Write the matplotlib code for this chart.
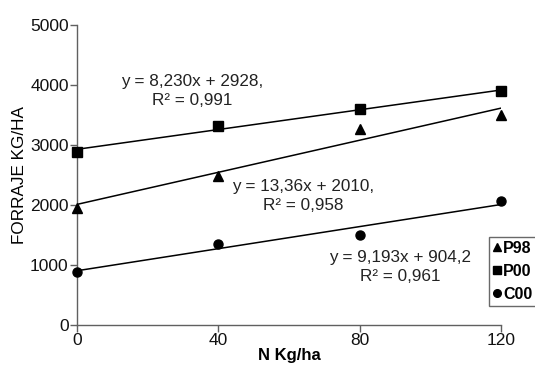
import matplotlib
matplotlib.use('Agg')
import numpy as np
import matplotlib.pyplot as plt
from matplotlib.lines import Line2D

plt.rcParams['font.family'] = ['Liberation Sans', 'DejaVu Sans']

# data
n_dose = [0, 40, 80, 120]
p98 = [1950, 2480, 3270, 3500]
p00 = [2880, 3310, 3600, 3900]
c00 = [880, 1350, 1500, 2070]

series_names = ['P98', 'P00', 'C00']
series_markers = ['^', 's', 'o']

# trend line coefficients (slope, intercept) as printed on the chart
trend_coef = {'P98': (13.36, 2010), 'P00': (8.230, 2928), 'C00': (9.193, 904.2)}
trend_text = {
    'P00': ('y = 8,230x + 2928,\nR² = 0,991', 32.5, 3900),
    'P98': ('y = 13,36x + 2010,\nR² = 0,958', 64, 2150),
    'C00': ('y = 9,193x + 904,2\nR² = 0,961', 91.5, 970),
}

y_ticks = [0, 1000, 2000, 3000, 4000, 5000]

AXIS_RGB = '#606060'

fig = plt.figure(figsize=(5.35, 3.65), dpi=100)
ax = fig.add_axes([0.144, 0.1096, 0.792, 0.822])

values = {'P98': p98, 'P00': p00, 'C00': c00}
x_line = np.array([n_dose[0], n_dose[-1]])
for name, mk in zip(series_names, series_markers):
    ax.plot(n_dose, values[name], linestyle='none', marker=mk, markersize=6.5,
            color='black', clip_on=False, zorder=3)
    slope, icept = trend_coef[name]
    ax.plot(x_line, slope * x_line + icept, color='black', linewidth=1.1, zorder=2)
    txt, tx, ty = trend_text[name]
    ax.text(tx, ty, txt, ha='center', va='center', fontsize=12.3, color='#222222',
            linespacing=1.3)

ax.set_xlim(0, 120)
ax.set_ylim(0, 5000)
ax.set_xticks(n_dose)
ax.set_yticks(y_ticks)
ax.tick_params(direction='out', length=5, width=1, color=AXIS_RGB, labelsize=12.5,
               labelcolor='#111111', pad=1)

for side in ['top', 'right']:
    ax.spines[side].set_visible(False)
for side in ['left', 'bottom']:
    ax.spines[side].set_color(AXIS_RGB)
    ax.spines[side].set_linewidth(1)

ax.set_xlabel('N Kg/ha', fontsize=12, fontweight='bold', labelpad=0)
ax.set_ylabel('FORRAJE KG/HA', fontsize=12.3, labelpad=2)

handles = [Line2D([], [], linestyle='none', marker=mk, color='black', markersize=5.5)
           for mk in series_markers]
leg = fig.legend(handles, series_names, loc='upper left',
                 bbox_to_anchor=(489 / 535, 1 - 237 / 365), borderaxespad=0,
                 frameon=True, fancybox=False, handlelength=0.5, handletextpad=0.15,
                 borderpad=0.25, labelspacing=0.5, prop={'weight': 'bold', 'size': 11.5})
leg.get_frame().set_edgecolor('#444444')
leg.get_frame().set_linewidth(1)

fig.savefig('out.png', dpi=100)
